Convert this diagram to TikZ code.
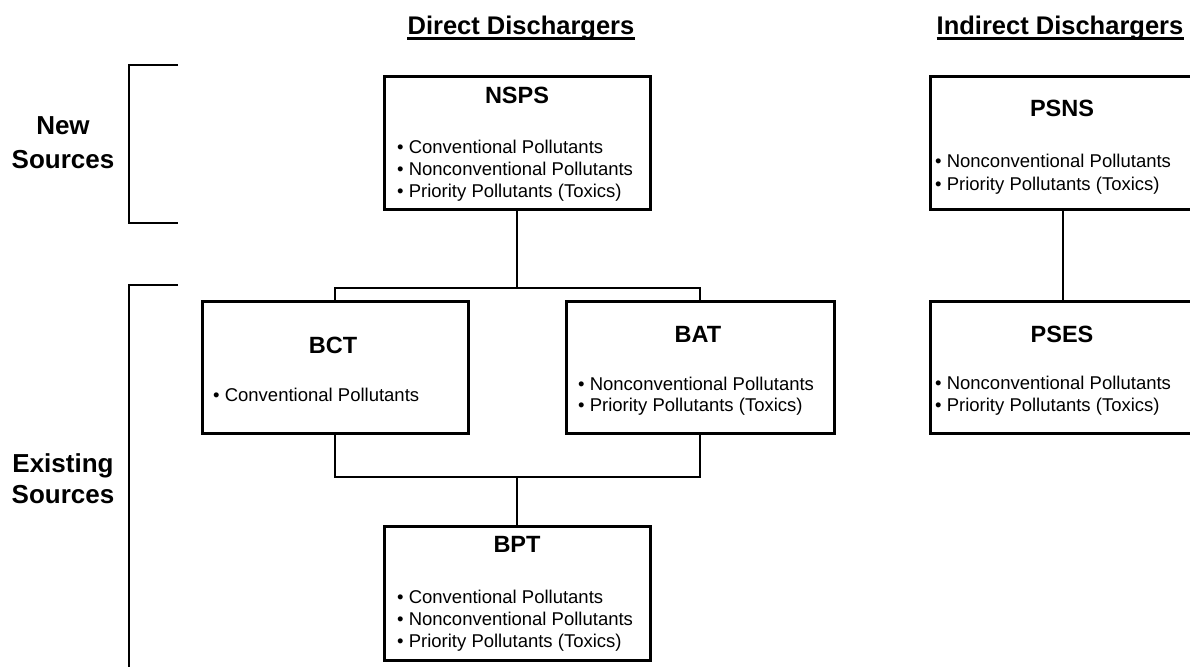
\documentclass[tikz,border=0pt]{standalone}
\usepackage{fontspec}
\setmainfont{Liberation Sans}
\begin{document}
\begin{tikzpicture}[x=1pt,y=-1pt,
  box/.style={draw, line width=3pt, rectangle, inner sep=0pt, minimum width=266pt, minimum height=132pt},
  conn/.style={line width=1.5pt},
  brk/.style={line width=1.7pt},
  hdr/.style={font=\fontsize{25.5}{30}\selectfont\bfseries, inner sep=0pt, anchor=base},
  side/.style={font=\fontsize{26}{31}\selectfont\bfseries, inner sep=0pt, anchor=base},
  ttl/.style={font=\fontsize{23.5}{27}\selectfont\bfseries, inner sep=0pt, anchor=base},
  itm/.style={font=\fontsize{18.5}{21}\selectfont, inner sep=0pt, anchor=base west}]
\useasboundingbox (0,0) rectangle (1190,666);
\clip (0,0) rectangle (1190,666);

% headers
\node[hdr] (hdirect) at (521,35) {Direct Dischargers};
\node[hdr] (hindirect) at (1060,35) {Indirect Dischargers};
\draw[line width=2.2pt] ([yshift=-3.5pt]hdirect.base west) -- ([yshift=-3.5pt]hdirect.base east);
\draw[line width=2.2pt] ([yshift=-3.5pt]hindirect.base west) -- ([yshift=-3.5pt]hindirect.base east);

% side labels
\node[side] (new1) at (63,135) {New};
\node[side] (new2) at (63,168) {Sources};
\node[side] (ex1) at (63,472) {Existing};
\node[side] (ex2) at (63,503) {Sources};

% brackets
\coordinate (bna) at (178,65);
\coordinate (bnb) at (129,65);
\coordinate (bnc) at (129,223);
\coordinate (bnd) at (178,223);
\draw[brk] (bna) -- (bnb) -- (bnc) -- (bnd);
\coordinate (bea) at (178,285);
\coordinate (beb) at (129,285);
\coordinate (bec) at (129,670);
\draw[brk] (bea) -- (beb) -- (bec);

% boxes
\node[box] (nsps) at (517,143) {};
\node[box] (psns) at (1063,143) {};
\node[box] (bct) at (335,367.5) {};
\node[box, minimum width=268pt] (bat) at (700,367.5) {};
\node[box] (pses) at (1063,367.5) {};
\node[box, minimum height=134pt] (bpt) at (517,593) {};

% NSPS
\node[ttl] (tnsps) at (517,103) {NSPS};
\node[itm] (nsps1) at (397,153) {• Conventional Pollutants};
\node[itm] (nsps2) at (397,175) {• Nonconventional Pollutants};
\node[itm] (nsps3) at (397,197) {• Priority Pollutants (Toxics)};

% PSNS
\node[ttl] (tpsns) at (1062,117) {PSNS};
\node[itm] (psns1) at (935,167) {• Nonconventional Pollutants};
\node[itm] (psns2) at (935,190) {• Priority Pollutants (Toxics)};

% BCT
\node[ttl] (tbct) at (333,353) {BCT};
\node[itm] (bct1) at (213,401) {• Conventional Pollutants};

% BAT
\node[ttl] (tbat) at (698,342) {BAT};
\node[itm] (bat1) at (578,390) {• Nonconventional Pollutants};
\node[itm] (bat2) at (578,411) {• Priority Pollutants (Toxics)};

% PSES
\node[ttl] (tpses) at (1062,342) {PSES};
\node[itm] (pses1) at (935,389) {• Nonconventional Pollutants};
\node[itm] (pses2) at (935,411) {• Priority Pollutants (Toxics)};

% BPT
\node[ttl] (tbpt) at (517,552) {BPT};
\node[itm] (bpt1) at (397,603) {• Conventional Pollutants};
\node[itm] (bpt2) at (397,625) {• Nonconventional Pollutants};
\node[itm] (bpt3) at (397,647) {• Priority Pollutants (Toxics)};

% connectors
\coordinate (j1) at (517,288);
\coordinate (j2) at (517,477);
\draw[conn] (nsps.south) -- (j1);
\draw[conn] (bct.north) |- (j1) -| (bat.north);
\draw[conn] (bct.south) |- (j2) -| (bat.south);
\draw[conn] (j2) -- (bpt.north);
\draw[conn] (psns.south) -- (pses.north);
\end{tikzpicture}
\end{document}
